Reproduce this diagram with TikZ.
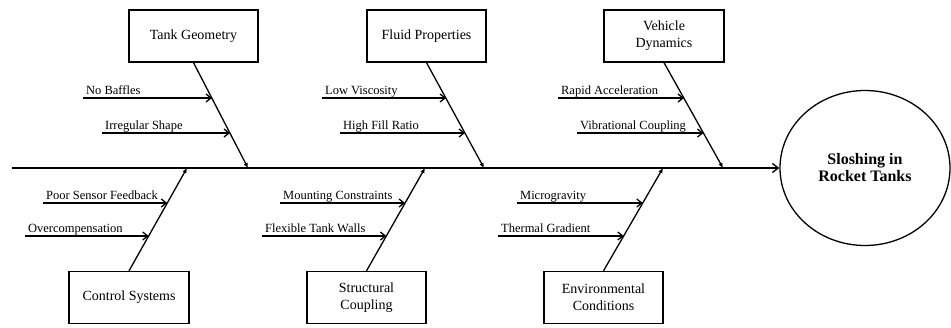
\documentclass[tikz,border=0pt]{standalone}
\usepackage{fontspec}
\setmainfont{Liberation Serif}
\usetikzlibrary{arrows.meta,shapes.geometric,calc}
\begin{document}
\begin{tikzpicture}[x=1pt,y=-1pt,line width=1.3pt,
  catbox/.style={draw,minimum width=120pt,minimum height=52pt,align=center,
    font=\fontsize{14}{17}\selectfont,inner sep=2pt},
  goalnode/.style={draw,ellipse,minimum width=170pt,minimum height=155pt,inner sep=0pt,
    align=center,font=\fontsize{16}{17}\selectfont\bfseries},
  causelabel/.style={anchor=base west,inner sep=0pt,xshift=2.5pt,yshift=4pt,
    font=\fontsize{12.5}{14}\selectfont},
  branch/.style={-{Latex[length=5pt,width=4.5pt]}},
  sub/.style={-{Straight Barb[length=5pt,width=8pt]}},
  spine/.style={-{Straight Barb[length=6pt,width=9pt]}}]
\useasboundingbox (0,0) rectangle (951,327);

% head and spine
\node[goalnode] (goal) at (865,168) {Sloshing in\\Rocket Tanks};
\coordinate (tail) at (12,168);
\draw[spine] (tail) -- (goal.west);

% spine junctions
\coordinate (t1) at (248,168);
\coordinate (t2) at (484,168);
\coordinate (t3) at (723,168);
\coordinate (b1) at (187,168);
\coordinate (b2) at (425,168);
\coordinate (b3) at (663,168);

% category boxes
\node[catbox,minimum width=129pt] (tg) at (193.5,36) {Tank Geometry};
\node[catbox,minimum width=119pt] (fp) at (426.5,36) {Fluid Properties};
\node[catbox] (vd) at (664,36) {Vehicle\\Dynamics};
\node[catbox] (cs) at (129,297.5) {Control Systems};
\node[catbox,minimum width=119pt] (sc) at (366.5,297.5) {Structural\\Coupling};
\node[catbox,minimum width=119pt] (ec) at (603.5,297.5) {Environmental\\Conditions};

% branches
\draw[branch] (tg.south) -- (t1);
\draw[branch] (fp.south) -- (t2);
\draw[branch] (vd.south) -- (t3);
\draw[branch] (cs.north) -- (b1);
\draw[branch] (sc.north) -- (b2);
\draw[branch] (ec.north) -- (b3);

% points on branches
\coordinate (tg1) at ($(tg.south)!0.34!(t1)$);
\coordinate (tg2) at ($(tg.south)!0.67!(t1)$);
\coordinate (fp1) at ($(fp.south)!0.34!(t2)$);
\coordinate (fp2) at ($(fp.south)!0.67!(t2)$);
\coordinate (vd1) at ($(vd.south)!0.34!(t3)$);
\coordinate (vd2) at ($(vd.south)!0.67!(t3)$);
\coordinate (cs1) at ($(cs.north)!0.66!(b1)$);
\coordinate (cs2) at ($(cs.north)!0.34!(b1)$);
\coordinate (sc1) at ($(sc.north)!0.66!(b2)$);
\coordinate (sc2) at ($(sc.north)!0.34!(b2)$);
\coordinate (ec1) at ($(ec.north)!0.66!(b3)$);
\coordinate (ec2) at ($(ec.north)!0.34!(b3)$);

% cause starts
\coordinate (s11) at (83,98);
\coordinate (s12) at (102,133);
\coordinate (s21) at (322,98);
\coordinate (s22) at (340,133);
\coordinate (s31) at (558,98);
\coordinate (s32) at (577,133);
\coordinate (s41) at (43,203);
\coordinate (s42) at (25,236);
\coordinate (s51) at (280,203);
\coordinate (s52) at (262,236);
\coordinate (s61) at (517,203);
\coordinate (s62) at (498,236);

% cause arrows
\draw[sub] (s11) -- (s11 -| tg1);
\draw[sub] (s12) -- (s12 -| tg2);
\draw[sub] (s21) -- (s21 -| fp1);
\draw[sub] (s22) -- (s22 -| fp2);
\draw[sub] (s31) -- (s31 -| vd1);
\draw[sub] (s32) -- (s32 -| vd2);
\draw[sub] (s41) -- (s41 -| cs1);
\draw[sub] (s42) -- (s42 -| cs2);
\draw[sub] (s51) -- (s51 -| sc1);
\draw[sub] (s52) -- (s52 -| sc2);
\draw[sub] (s61) -- (s61 -| ec1);
\draw[sub] (s62) -- (s62 -| ec2);

% cause labels
\node[causelabel] (l11) at (s11) {No Baffles};
\node[causelabel] (l12) at (s12) {Irregular Shape};
\node[causelabel] (l21) at (s21) {Low Viscosity};
\node[causelabel] (l22) at (s22) {High Fill Ratio};
\node[causelabel] (l31) at (s31) {Rapid Acceleration};
\node[causelabel] (l32) at (s32) {Vibrational Coupling};
\node[causelabel] (l41) at (s41) {Poor Sensor Feedback};
\node[causelabel] (l42) at (s42) {Overcompensation};
\node[causelabel] (l51) at (s51) {Mounting Constraints};
\node[causelabel] (l52) at (s52) {Flexible Tank Walls};
\node[causelabel] (l61) at (s61) {Microgravity};
\node[causelabel] (l62) at (s62) {Thermal Gradient};
\end{tikzpicture}
\end{document}
